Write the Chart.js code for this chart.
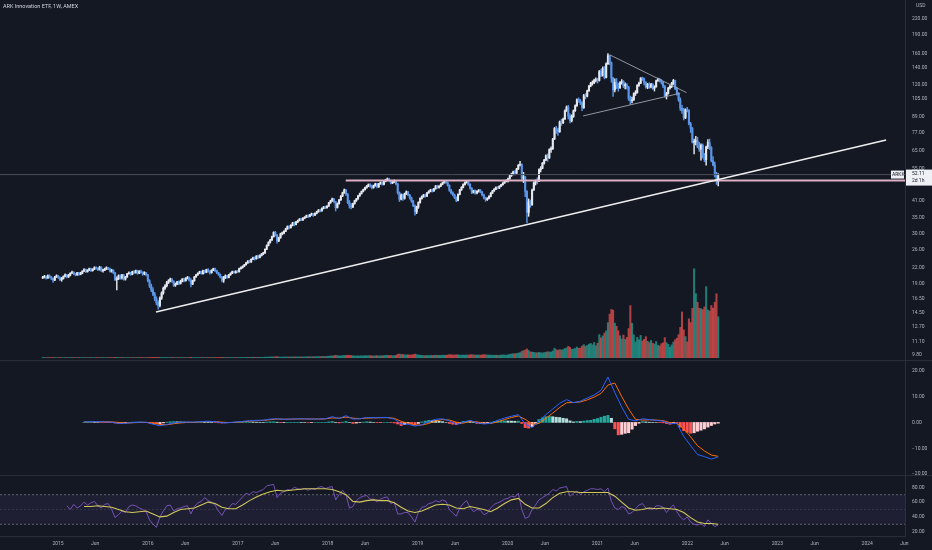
<!DOCTYPE html>
<html>
<head>
<meta charset="utf-8">
<title>ARK Innovation ETF, 1W, AMEX</title>
<script src="https://cdn.jsdelivr.net/npm/chart.js@4.4.1/dist/chart.umd.min.js"></script>
<style>
  html, body { margin: 0; padding: 0; background: #141823; }
  #wrap { width: 932px; height: 550px; }
</style>
</head>
<body>
<div id="wrap"><canvas id="chart" width="932" height="550"></canvas></div>
<script>
// weekly bars, the first one is the week of 31 Oct 2014 (decimal years on the x axis)
const firstWeek = 2014.83;
const weekStep = 7 / 365.25;
const firstOpen = 20.0;

const closes = [
  20.1, 20.3, 20.0, 20.4, 20.2, 19.9, 19.6, 20.2, 20.4,
  20.1, 19.7, 19.9, 20.3, 20.6, 20.2, 20.5, 20.9, 21.1, 20.8, 20.6, 21.0, 20.7,
  20.9, 21.3, 21.6, 21.2, 21.5, 21.8, 21.4, 21.7, 22.0, 21.9, 21.6, 22.1, 21.4,
  21.5, 21.7, 22.0, 21.8, 21.3, 21.5, 21.0, 19.7, 19.9, 20.4, 20.0, 20.6, 19.8,
  20.2, 20.8, 21.0, 20.7, 21.2, 21.0, 21.4, 20.9, 21.3, 21.1, 20.8, 21.0, 20.6,
  19.5, 18.6, 17.9, 17.2, 16.5, 15.9, 15.5, 16.6, 17.4, 18.2, 18.6, 19.2, 19.5,
  19.8, 19.4, 18.7, 18.9, 19.3, 19.0, 19.4, 19.8, 19.5, 19.9, 20.1, 19.6, 18.9,
  19.5, 20.2, 20.6, 20.9, 21.2, 20.8, 21.4, 21.1, 21.6, 21.3, 21.0, 21.5, 21.8,
  21.4, 21.0, 20.7, 20.2, 19.6, 20.1, 20.4, 20.1, 20.6, 20.9, 21.2, 21.0, 21.3,
  21.2, 21.8, 22.0, 22.3, 22.6, 23.0, 23.4, 23.2, 23.8, 24.1, 23.9, 24.5, 24.2,
  24.6, 25.0, 25.2, 26.1, 27.0, 27.8, 28.4, 29.3, 30.5, 29.8, 28.2, 29.0, 30.1,
  30.3, 30.8, 31.5, 32.2, 31.9, 32.6, 33.3, 32.8, 33.6, 34.0, 34.5, 34.2, 34.8,
  35.1, 35.6, 35.3, 35.9, 36.2, 35.8, 36.4, 36.9, 37.5, 37.2, 38.1, 38.6, 38.3,
  38.9, 40.1, 40.8, 41.6, 40.5, 38.4, 39.8, 41.2, 42.7, 44.0, 45.2, 43.5, 40.2,
  39.1, 38.6, 39.8, 40.9, 41.6, 42.8, 43.7, 44.6, 45.3, 46.1, 46.8, 47.5, 46.9,
  46.2, 47.0, 47.8, 46.5, 47.9, 48.4, 47.6, 48.9, 49.6, 50.1, 49.3, 48.2, 48.7,
  49.2, 47.8, 44.1, 41.5, 43.2, 41.8, 43.6, 44.4, 43.1, 42.0, 40.8, 39.1, 36.9,
  38.6, 40.2, 41.8, 42.5, 43.1, 42.7, 44.0, 44.6, 45.2, 44.8, 45.7, 46.9, 46.2,
  46.8, 47.6, 48.3, 48.9, 48.4, 47.2, 45.1, 44.0, 43.2, 42.1, 41.0, 43.4, 45.2,
  46.3, 47.5, 48.4, 48.9, 47.6, 45.9, 44.2, 44.8, 43.9, 44.6, 45.1, 44.3, 43.2,
  42.0, 41.3, 41.8, 42.6, 43.9, 44.8, 45.5, 46.3, 46.0, 46.8, 47.4, 48.2, 49.0,
  49.3, 50.1, 51.6, 52.3, 53.4, 52.8, 54.9, 56.8, 57.3, 50.4, 51.0, 44.6, 36.7,
  40.5, 39.4, 45.2, 48.3, 49.1, 49.0, 54.6, 55.2, 57.9, 59.6, 62.0, 60.8, 65.7,
  66.1, 72.4, 79.8, 78.6, 77.5, 84.9, 84.2, 87.1, 94.0, 97.3, 89.6, 85.8, 89.2,
  94.1, 98.5, 104.3, 103.0, 101.2, 96.8, 108.4, 107.6, 113.2, 118.4, 121.3, 122.0, 124.6,
  125.8, 124.6, 135.2, 130.4, 139.1, 128.0, 145.3, 156.6, 147.1, 127.4, 114.2, 122.5, 120.1,
  116.3, 122.0, 123.4, 118.7, 119.2, 117.3, 105.4, 103.2, 104.1, 110.3, 111.2, 119.1, 121.4,
  127.3, 126.8, 122.1, 117.2, 120.3, 117.0, 120.1, 115.8, 117.4, 124.2, 126.1, 124.0, 122.8,
  118.3, 108.2, 110.4, 116.1, 118.0, 121.3, 124.5, 115.6, 110.2, 104.1, 96.2, 94.0, 88.1,
  95.2, 94.6, 83.2, 80.1, 70.3, 70.6, 71.2, 67.3, 65.9, 68.4, 62.1, 59.8, 67.4,
  70.1, 67.0, 59.2, 57.0, 51.6, 48.9, 52.11
];

const highs = [
  20.3, 20.5, 20.4, 20.6, 20.6, 20.3, 20.0, 20.3, 20.6,
  20.5, 20.2, 20.1, 20.4, 20.8, 20.7, 20.7, 21.0, 21.3, 21.2, 20.9, 21.1, 21.1,
  21.1, 21.4, 21.8, 21.7, 21.6, 21.9, 21.9, 21.8, 22.2, 22.2, 22.0, 22.3, 22.2,
  21.7, 21.9, 22.2, 22.1, 21.9, 21.7, 21.6, 21.1, 20.2, 20.6, 20.6, 20.7, 20.7,
  20.3, 20.9, 21.2, 21.1, 21.3, 21.4, 21.5, 21.5, 21.4, 21.5, 21.2, 21.2, 21.1,
  20.7, 19.7, 18.9, 18.3, 17.5, 16.8, 16.2, 16.8, 17.6, 18.4, 18.8, 19.4, 19.7,
  20.0, 19.9, 19.5, 19.1, 19.4, 19.5, 19.6, 19.9, 20.0, 20.1, 20.3, 20.2, 19.9,
  19.6, 20.3, 20.7, 21.0, 21.3, 21.3, 21.5, 21.5, 21.7, 21.8, 21.4, 21.6, 21.9,
  21.9, 21.5, 21.1, 20.8, 20.3, 20.3, 20.6, 20.5, 20.7, 21.0, 21.3, 21.3, 21.4,
  21.4, 21.9, 22.2, 22.4, 22.7, 23.1, 23.5, 23.6, 23.9, 24.3, 24.3, 24.6, 24.7,
  24.8, 25.1, 25.4, 26.2, 27.2, 28.0, 28.6, 29.5, 30.7, 30.8, 30.0, 29.2, 30.3,
  30.6, 31.0, 31.7, 32.4, 32.5, 32.8, 33.5, 33.6, 33.8, 34.2, 34.7, 34.8, 35.0,
  35.3, 35.8, 35.9, 36.1, 36.5, 36.4, 36.6, 37.1, 37.7, 37.8, 38.3, 38.8, 38.9,
  39.1, 40.3, 41.1, 41.9, 41.8, 40.7, 40.1, 41.4, 42.9, 44.3, 45.6, 45.5, 43.7,
  41.0, 39.8, 40.0, 41.1, 41.8, 43.0, 43.9, 44.8, 45.6, 46.4, 47.1, 47.8, 47.9,
  47.3, 47.3, 48.1, 48.0, 48.1, 48.7, 48.6, 49.1, 49.9, 50.5, 50.3, 49.5, 49.0,
  49.6, 49.4, 48.0, 44.4, 43.6, 43.5, 43.9, 44.8, 44.6, 43.4, 42.3, 41.1, 39.4,
  38.9, 40.5, 42.0, 42.8, 43.4, 43.5, 44.2, 44.9, 45.5, 45.6, 45.9, 47.1, 47.2,
  47.1, 47.9, 48.6, 49.2, 49.3, 48.7, 47.4, 45.5, 44.4, 43.5, 42.4, 43.6, 45.5,
  46.6, 47.8, 48.7, 49.3, 49.1, 47.9, 46.2, 45.1, 45.2, 44.9, 45.4, 45.4, 44.6,
  43.5, 42.3, 42.1, 42.9, 44.1, 45.0, 45.8, 46.5, 46.6, 47.0, 47.6, 48.4, 49.2,
  49.6, 50.4, 51.9, 52.8, 53.8, 54.1, 55.2, 57.2, 58.9, 57.6, 53.2, 51.3, 44.9,
  41.6, 41.2, 45.6, 48.7, 49.6, 50.6, 54.9, 56.1, 58.3, 60.0, 62.6, 63.1, 66.2,
  67.4, 72.9, 80.6, 81.4, 80.2, 85.6, 87.0, 88.0, 94.8, 98.4, 98.9, 91.5, 90.6,
  94.8, 99.3, 105.2, 106.0, 104.5, 102.3, 109.5, 110.3, 114.0, 119.2, 122.5, 124.1, 126.2,
  127.5, 127.0, 136.7, 138.3, 141.2, 141.8, 146.5, 159.7, 157.8, 148.0, 128.3, 126.4, 126.8,
  121.5, 123.2, 125.6, 124.5, 121.8, 121.1, 117.9, 107.8, 106.9, 111.2, 113.3, 119.8, 122.6,
  127.9, 128.5, 127.4, 123.3, 121.2, 122.0, 121.4, 121.0, 118.6, 124.9, 127.2, 127.0, 125.7,
  123.4, 118.9, 111.7, 117.0, 119.7, 122.4, 125.8, 124.9, 117.2, 111.3, 106.0, 99.0, 96.3,
  95.8, 97.1, 95.0, 84.5, 80.6, 72.4, 74.2, 73.6, 70.2, 69.3, 69.2, 63.4, 67.9,
  72.0, 72.4, 67.5, 61.5, 58.5, 53.3, 52.6
];

const lows = [
  19.9, 20.0, 19.8, 19.9, 20.0, 19.7, 19.2, 19.5, 20.1,
  19.9, 19.5, 19.4, 19.8, 20.2, 20.0, 20.1, 20.4, 20.8, 20.6, 20.4, 20.5, 20.5,
  20.6, 20.8, 21.2, 21.0, 21.1, 21.4, 21.2, 21.3, 21.6, 21.7, 21.4, 21.5, 21.2,
  21.1, 21.4, 21.6, 21.6, 21.1, 21.1, 20.8, 19.5, 17.9, 19.7, 19.8, 19.8, 19.6,
  19.6, 20.1, 20.7, 20.5, 20.6, 20.8, 20.9, 20.7, 20.8, 20.9, 20.5, 20.6, 20.4,
  19.3, 18.3, 17.6, 17.0, 16.2, 15.6, 15.0, 15.3, 16.4, 17.2, 18.0, 18.4, 19.0,
  19.3, 19.2, 18.5, 18.5, 18.8, 18.8, 18.9, 19.3, 19.3, 19.4, 19.8, 19.4, 18.4,
  18.8, 19.4, 20.1, 20.5, 20.8, 20.7, 20.7, 20.9, 21.0, 21.1, 20.7, 20.9, 21.4,
  21.2, 20.8, 20.5, 20.0, 19.3, 19.2, 19.9, 19.9, 20.0, 20.5, 20.8, 20.9, 20.9,
  21.0, 21.1, 21.7, 21.9, 22.2, 22.5, 22.9, 23.0, 23.1, 23.7, 23.6, 23.8, 24.0,
  24.1, 24.5, 24.8, 25.1, 26.0, 26.9, 27.6, 28.3, 29.2, 29.5, 27.6, 28.0, 28.9,
  29.8, 30.1, 30.7, 31.4, 31.5, 31.7, 32.4, 32.4, 32.7, 33.4, 33.9, 34.0, 34.1,
  34.6, 35.0, 35.0, 35.2, 35.7, 35.4, 35.6, 36.2, 36.8, 36.9, 37.1, 37.9, 38.0,
  38.2, 38.8, 39.9, 40.6, 40.1, 37.2, 38.2, 39.6, 41.0, 42.5, 43.8, 43.0, 39.8,
  38.2, 37.9, 38.4, 39.6, 40.6, 41.4, 42.6, 43.5, 44.4, 45.1, 45.9, 46.6, 46.4,
  45.6, 45.9, 46.8, 46.1, 46.3, 47.6, 47.2, 47.4, 48.7, 49.3, 48.9, 47.8, 47.9,
  48.4, 47.3, 43.5, 40.6, 41.2, 41.0, 41.5, 43.3, 42.8, 41.5, 40.3, 38.7, 35.8,
  36.3, 38.1, 40.0, 41.5, 42.2, 42.3, 42.5, 43.8, 44.4, 44.3, 44.6, 45.5, 45.8,
  45.9, 46.6, 47.4, 48.1, 48.0, 46.8, 44.6, 43.6, 42.8, 41.7, 40.5, 40.8, 43.2,
  45.0, 46.1, 47.2, 48.1, 47.2, 45.5, 43.7, 43.9, 43.5, 43.6, 44.3, 44.0, 42.8,
  41.6, 40.7, 41.0, 41.6, 42.4, 43.7, 44.6, 45.3, 45.6, 45.8, 46.6, 47.2, 48.0,
  48.7, 48.6, 49.9, 51.2, 51.9, 52.0, 52.6, 54.6, 56.4, 49.1, 48.4, 42.5, 33.3,
  35.4, 38.5, 39.2, 45.0, 47.3, 47.8, 48.8, 53.4, 55.0, 57.4, 59.3, 58.9, 60.5,
  64.0, 65.8, 72.1, 76.2, 74.8, 77.0, 82.1, 83.5, 86.8, 93.5, 87.2, 84.0, 84.9,
  88.5, 93.6, 97.9, 101.8, 99.6, 94.2, 96.2, 105.1, 107.0, 112.6, 117.5, 119.3, 121.0,
  122.9, 121.5, 123.8, 128.9, 129.6, 126.4, 127.5, 144.6, 144.2, 122.5, 107.5, 111.9, 115.3,
  112.9, 115.6, 120.3, 116.6, 115.2, 114.9, 103.6, 99.8, 101.2, 103.5, 108.4, 110.8, 117.8,
  120.9, 124.6, 119.6, 116.0, 115.4, 115.8, 116.3, 114.6, 112.9, 117.0, 123.5, 122.8, 120.5,
  116.4, 106.8, 104.9, 109.8, 114.9, 116.6, 120.0, 114.3, 108.8, 102.6, 94.3, 91.7, 86.4,
  87.5, 93.0, 82.6, 76.9, 69.8, 63.1, 68.5, 66.8, 64.5, 59.6, 60.8, 58.7, 56.8,
  66.3, 65.7, 58.6, 56.4, 51.0, 47.6, 46.9
];

// weekly volume, millions of shares
const volumes = [
  0.4, 0.3, 0.2, 0.2, 0.3, 0.2, 0.3, 0.2, 0.1,
  0.2, 0.2, 0.1, 0.2, 0.2, 0.1, 0.2, 0.3, 0.2, 0.2, 0.1, 0.2, 0.2,
  0.2, 0.1, 0.2, 0.2, 0.1, 0.2, 0.2, 0.1, 0.2, 0.2, 0.2, 0.1, 0.3,
  0.2, 0.2, 0.1, 0.2, 0.2, 0.3, 0.3, 0.5, 0.6, 0.3, 0.2, 0.3, 0.3,
  0.2, 0.2, 0.2, 0.1, 0.2, 0.2, 0.2, 0.2, 0.3, 0.2, 0.3, 0.2, 0.3,
  0.4, 0.4, 0.5, 0.5, 0.6, 0.5, 0.7, 0.4, 0.4, 0.3, 0.3, 0.3, 0.2,
  0.2, 0.3, 0.3, 0.2, 0.2, 0.3, 0.2, 0.2, 0.3, 0.2, 0.2, 0.3, 0.5,
  0.3, 0.2, 0.2, 0.3, 0.2, 0.2, 0.3, 0.2, 0.3, 0.3, 0.2, 0.3, 0.3,
  0.3, 0.3, 0.4, 0.4, 0.6, 0.5, 0.4, 0.3, 0.3, 0.3, 0.4, 0.3, 0.3,
  0.4, 0.4, 0.5, 0.4, 0.5, 0.5, 0.6, 0.5, 0.6, 0.7, 0.6, 0.7, 0.6,
  0.7, 0.8, 0.7, 0.9, 1.1, 1.0, 1.2, 1.3, 1.5, 1.4, 1.8, 1.2, 1.1,
  1.0, 1.1, 1.2, 1.3, 1.1, 1.2, 1.4, 1.3, 1.2, 1.3, 1.4, 1.2, 1.3,
  1.4, 1.5, 1.4, 1.6, 1.5, 1.7, 1.6, 1.8, 1.9, 1.7, 2.0, 2.1, 1.8,
  2.0, 2.6, 2.8, 3.0, 3.2, 4.1, 3.4, 2.9, 3.1, 3.5, 3.8, 3.6, 4.2,
  4.0, 3.7, 3.2, 3.0, 2.8, 3.1, 2.9, 3.3, 3.0, 3.4, 3.2, 3.5, 3.3,
  3.1, 2.9, 3.2, 3.4, 3.0, 3.3, 3.1, 3.6, 3.8, 4.0, 3.5, 3.7, 3.4,
  3.3, 3.9, 5.6, 6.1, 5.2, 5.5, 4.8, 4.6, 4.9, 4.4, 4.7, 5.1, 6.0,
  5.2, 4.6, 4.1, 3.8, 3.6, 3.4, 3.7, 3.5, 3.8, 3.6, 3.9, 4.2, 4.0,
  3.8, 3.9, 4.1, 4.3, 4.0, 4.4, 5.2, 4.8, 4.6, 4.5, 4.9, 4.7, 4.4,
  4.2, 4.5, 4.3, 4.6, 4.4, 4.9, 5.1, 4.7, 4.5, 4.3, 4.6, 4.2, 4.8,
  5.0, 4.9, 4.6, 4.3, 4.4, 4.2, 4.0, 4.3, 3.9, 4.1, 4.4, 4.6, 4.5,
  4.3, 4.8, 5.6, 6.2, 6.8, 6.5, 7.2, 7.8, 8.4, 10.5, 11.8, 12.9, 14.6,
  12.1, 9.8, 9.3, 8.9, 8.4, 8.1, 8.8, 8.3, 7.9, 8.5, 9.2, 9.9, 9.6,
  9.4, 11.2, 15.8, 13.4, 12.1, 13.7, 12.8, 13.5, 15.2, 16.4, 18.9, 17.2, 13.9,
  14.6, 15.3, 17.8, 15.6, 16.2, 19.4, 21.7, 18.9, 20.4, 22.6, 23.8, 21.5, 25.3,
  19.8, 24.2, 38.5, 33.1, 36.4, 41.2, 44.8, 58.3, 72.6, 80.4, 79.2, 57.6, 52.3,
  44.9, 36.5, 31.2, 37.8, 30.4, 33.7, 48.6, 86.9, 57.4, 38.2, 26.5, 34.1, 29.8,
  37.2, 27.9, 30.6, 35.1, 27.4, 25.3, 28.6, 24.1, 22.7, 26.9, 20.8, 19.6, 23.4,
  24.8, 33.5, 25.1, 22.3, 17.6, 21.4, 26.2, 29.8, 32.5, 38.4, 50.6, 76.2, 46.5,
  35.2, 26.4, 64.8, 58.5, 82.3, 148.2, 106.8, 92.5, 82.4, 81.6, 80.2, 84.6, 118.4,
  79.5, 77.8, 86.9, 82.4, 92.4, 106.5, 68.2
];

// MACD 12/26/9: lines every 4th week, histogram every 2nd week, both from week 24
const macdStart = 24;
const macdLine = [
  0.25, 0.30, 0.30, 0.20, 0.10, -0.40, -0.35, -0.05, 0.10, 0.05,
  -0.70, -1.30, -0.80, -0.20, 0.00, 0.15, 0.10, 0.35, 0.45, 0.30,
  -0.15, -0.10, 0.15, 0.40, 0.65, 0.80, 0.85, 1.30, 1.40, 1.20,
  1.30, 1.40, 1.35, 1.30, 1.30, 1.40, 2.20, 1.50, 2.60, 1.30,
  1.40, 1.90, 1.80, 1.90, 1.90, 1.30, -0.60, -0.70, -1.40, -0.90,
  0.40, 1.20, 1.40, 0.60, -0.80, 0.10, 0.80, -0.10, -0.60, -0.30,
  0.80, 1.70, 2.40, 3.00, -0.60, -2.00, 0.60, 3.00, 5.20, 7.40,
  8.80, 7.60, 8.20, 9.40, 10.60, 12.40, 17.50, 11.50, 6.00, 1.20,
  0.60, 1.40, 1.10, 0.80, 0.50, -0.50, -0.40, -5.40, -9.00, -12.40,
  -13.20, -14.20, -13.30
];
const signalLine = [
  0.20, 0.25, 0.28, 0.26, 0.20, 0.00, -0.20, -0.15, -0.02, 0.04,
  -0.25, -0.75, -0.90, -0.50, -0.20, 0.00, 0.08, 0.20, 0.35, 0.35,
  0.10, -0.05, 0.05, 0.25, 0.50, 0.70, 0.80, 1.05, 1.30, 1.25,
  1.25, 1.35, 1.35, 1.32, 1.30, 1.35, 1.75, 1.65, 2.05, 1.65,
  1.45, 1.65, 1.75, 1.80, 1.85, 1.60, 0.40, -0.30, -1.00, -1.00,
  -0.40, 0.60, 1.10, 0.90, 0.10, -0.30, 0.40, 0.20, -0.30, -0.40,
  0.20, 1.10, 1.90, 2.50, 1.20, -0.60, -0.40, 1.60, 3.60, 5.80,
  7.60, 7.70, 7.90, 8.70, 9.80, 11.20, 14.40, 15.20, 10.00, 5.20,
  1.20, 0.90, 1.00, 0.90, 0.70, -0.10, -0.40, -2.40, -5.60, -9.00,
  -11.00, -12.60, -13.10
];
const macdHist = [
  0.05, 0.05, 0.05, 0.04, 0.02, -0.02, -0.06, -0.08, -0.10, -0.25,
  -0.40, -0.30, -0.15, 0.02, 0.10, 0.12, 0.12, 0.05, 0.01, -0.20,
  -0.45, -0.55, -0.55, -0.20, 0.10, 0.25, 0.30, 0.25, 0.20, 0.15,
  0.15, 0.05, 0.02, 0.10, 0.15, 0.12, 0.10, 0.02, -0.05, -0.15,
  -0.25, -0.15, -0.05, 0.05, 0.10, 0.14, 0.15, 0.15, 0.15, 0.12,
  0.10, 0.06, 0.05, 0.15, 0.25, 0.25, 0.10, -0.10, -0.05, 0.02,
  0.05, 0.05, 0.05, 0.02, 0.00, -0.02, -0.02, 0.00, 0.00, 0.03,
  0.05, 0.20, 0.35, 0.05, -0.20, 0.10, 0.35, 0.00, -0.40, -0.25,
  -0.05, 0.10, 0.25, 0.15, 0.00, -0.05, -0.10, 0.00, 0.02, -0.05,
  -0.20, -0.60, -1.20, -0.80, -0.30, -0.50, -0.90, -0.40, 0.20, 0.50,
  0.80, 0.75, 0.70, 0.45, 0.30, 0.00, -0.40, -0.70, -0.90, -0.50,
  0.40, 0.45, 0.40, 0.00, -0.40, -0.35, -0.30, -0.10, 0.10, 0.35,
  0.60, 0.60, 0.60, 0.55, 0.50, 0.45, 0.50, -0.40, -2.00, -2.20,
  -1.60, -0.60, 1.10, 1.80, 2.20, 2.30, 2.20, 2.00, 1.90, 1.60,
  1.40, 0.60, 0.20, 0.40, 0.30, 0.50, 0.70, 0.80, 1.20, 1.50,
  2.00, 2.40, 2.70, 1.60, -2.50, -4.80, -4.60, -4.20, -4.00, -2.60,
  -1.20, -0.30, 0.30, 0.20, 0.10, 0.05, 0.00, -0.05, -0.15, -0.45,
  -0.70, -0.20, -0.30, -1.80, -3.20, -3.80, -4.20, -4.00, -3.40, -3.00,
  -2.50, -1.80, -1.20, -0.60, -0.30
];

// RSI 14 every 2nd week from week 14, its moving average every 4th week from week 24
const rsiStart = 14;
const rsiLine = [
  55, 50, 57, 52, 55, 60, 56, 59, 61, 55,
  52, 57, 58, 50, 39, 43, 48, 46, 54, 56,
  55, 52, 50, 47, 36, 30, 26, 40, 48, 55,
  56, 48, 51, 52, 54, 55, 44, 54, 59, 61,
  66, 62, 60, 56, 48, 42, 50, 52, 58, 57,
  62, 67, 72, 70, 74, 73, 75, 77, 82, 83,
  84, 66, 72, 74, 77, 76, 80, 78, 77, 78,
  76, 78, 77, 80, 81, 78, 80, 81, 63, 70,
  76, 70, 52, 54, 62, 66, 68, 69, 64, 64,
  60, 64, 66, 67, 58, 60, 44, 44, 46, 46,
  40, 33, 46, 53, 54, 58, 59, 62, 60, 63,
  61, 50, 45, 41, 52, 58, 62, 53, 47, 50,
  49, 43, 45, 52, 57, 59, 61, 64, 65, 68,
  67, 72, 50, 38, 40, 50, 56, 63, 66, 69,
  72, 77, 75, 79, 80, 81, 68, 72, 75, 70,
  74, 76, 78, 78, 77, 78, 74, 79, 61, 52,
  50, 54, 52, 44, 46, 51, 56, 58, 52, 51,
  50, 55, 55, 53, 46, 52, 56, 47, 40, 36,
  40, 33, 30, 29, 31, 27, 36, 31, 27, 29
];
const rsiMaStart = 24;
const rsiMa = [
  54, 54, 55, 54, 53, 50, 47, 46, 47, 48,
  44, 40, 41, 46, 50, 51, 52, 56, 60, 58,
  53, 51, 51, 56, 62, 67, 71, 74, 76, 75,
  76, 77, 78, 78, 78, 78, 77, 74, 70, 61,
  60, 62, 63, 62, 62, 59, 53, 48, 46, 48,
  52, 56, 57, 56, 52, 51, 54, 52, 50, 47,
  52, 58, 63, 65, 57, 52, 52, 58, 66, 72,
  74, 74, 73, 73, 73, 73, 73, 68, 60, 52,
  49, 50, 52, 51, 52, 51, 50, 46, 39, 33,
  31, 31, 30
];

// axes
const xRange = [2014.355, 2024.42];
const years = [2015, 2016, 2017, 2018, 2019, 2020, 2021, 2022, 2023, 2024];
const midYear = 151 / 365;
const midYearLabel = 'Jun';
const priceRange = [9.36, 262.4];
const priceTicks = [9.8, 11.1, 12.7, 14.5, 16.5, 19, 22, 26, 30, 35, 41, 48, 55, 65, 77, 89, 105, 120, 140, 160, 190, 220];
const macdRange = [-20.3, 24.1];
const macdTicks = [20, 10, 0, -10, -20];
const rsiRange = [14.2, 96.6];
const rsiTicks = [80, 60, 40, 20];
const rsiLevels = [70, 50, 30];
const volRange = [-296.9, 595.7];

// drawings on the price pane: [decimal year, price]
const trendLine = [[2016.09, 14.6], [2024.21, 71.8]];
const resistance = [[2018.2, 49.3], [2024.42, 49.3]];
const wedgeTop = [[2021.14, 157.7], [2021.99, 111.3]];
const wedgeBottom = [[2020.84, 89.7], [2021.92, 110.7]];

const chartTitle = 'ARK Innovation ETF, 1W, AMEX';
const symbol = 'ARKK';
const currency = 'USD';
const lastPrice = 52.11;
const barCountdown = '2d 1h';

// colours
const bgColor = '#141823';
const lineColor = '#2a2e39';
const tickColor = '#b2b5be';
const upColor = '#e6e9f0';
const downColor = '#5a95e8';
const fontFamily = 'Roboto, "Liberation Sans", sans-serif';
const tickFont = { family: fontFamily, size: 5 };

const weekX = i => firstWeek + i * weekStep;
const opens = closes.map((c, i) => (i ? closes[i - 1] : firstOpen));
const barColors = closes.map((c, i) => (c >= opens[i] ? upColor : downColor));
const volColors = closes.map((c, i) => (c >= opens[i] ? 'rgba(38,166,154,0.7)' : 'rgba(239,83,80,0.7)'));
const strided = (arr, start, step) => arr.map((v, k) => ({ x: weekX(start + k * step), y: v }));
const histColors = macdHist.map((h, k) => {
  const prev = k ? macdHist[k - 1] : 0;
  if (h >= 0) return h >= prev ? '#26a69a' : '#b2dfdb';
  return h < prev ? '#ff5252' : '#ffcdd2';
});
const drawing = (pts, color, width) => ({
  type: 'line', yAxisID: 'y', order: 1,
  data: pts.map(([x, y]) => ({ x, y })),
  borderColor: color, borderWidth: width, pointRadius: 0
});
const fmt = v => (v < 0 ? '\u2212' : '') + Math.abs(v).toFixed(2);
const fixedTicks = list => s => { s.ticks = list.map(v => ({ value: v })); };
// panes share the right column; keep the label padding from shrinking the plot area
const yAxis = (extra) => Object.assign({
  position: 'right', stack: 'panes',
  grid: { display: false, drawTicks: false },
  border: { color: lineColor },
  afterFit: s => { s.width = 27; s.paddingTop = 0; s.paddingBottom = 0; },
  ticks: { color: tickColor, font: tickFont, padding: 7, autoSkip: false, callback: v => fmt(v) }
}, extra);

const paneDecor = {
  id: 'paneDecor',
  beforeDraw(chart) {
    const { ctx, width, height } = chart;
    ctx.save();
    ctx.fillStyle = bgColor;
    ctx.fillRect(0, 0, width, height);
    ctx.restore();
  },
  beforeDatasetsDraw(chart) {
    const { ctx, width, chartArea: a, scales: s } = chart;
    const r = s.yRsi;
    const top = r.getPixelForValue(rsiLevels[0]);
    const mid = r.getPixelForValue(rsiLevels[1]);
    const bot = r.getPixelForValue(rsiLevels[2]);
    ctx.save();
    ctx.fillStyle = 'rgba(126,87,194,0.11)';
    ctx.fillRect(a.left, top, a.right - a.left, bot - top);
    ctx.lineWidth = 1;
    ctx.setLineDash([2, 2]);
    ctx.strokeStyle = 'rgba(120,123,134,0.75)';
    [top, bot].forEach(y => {
      ctx.beginPath(); ctx.moveTo(a.left, y); ctx.lineTo(a.right, y); ctx.stroke();
    });
    ctx.strokeStyle = 'rgba(120,123,134,0.25)';
    ctx.beginPath(); ctx.moveTo(a.left, mid); ctx.lineTo(a.right, mid); ctx.stroke();
    ctx.setLineDash([]);
    ctx.strokeStyle = lineColor;
    [s.y.bottom, s.yMacd.bottom].forEach(y => {
      ctx.beginPath(); ctx.moveTo(0, y + 0.5); ctx.lineTo(width, y + 0.5); ctx.stroke();
    });
    ctx.restore();
  },
  afterDraw(chart) {
    const { ctx, width, chartArea: a, scales: s } = chart;
    ctx.save();
    ctx.textBaseline = 'middle';
    ctx.textAlign = 'left';
    ctx.font = '5.5px ' + fontFamily;
    ctx.fillStyle = '#d1d4dc';
    ctx.fillText(chartTitle, 3, 7);
    ctx.font = '5px ' + fontFamily;
    ctx.fillStyle = tickColor;
    ctx.fillText(currency, a.right + 11, 6);
    const py = s.y.getPixelForValue(lastPrice);
    ctx.fillStyle = '#eef0f6';
    ctx.fillRect(a.right + 1, py - 5, width - a.right - 1, 16);
    ctx.fillRect(a.right - 14, py - 4, 13, 8);
    ctx.fillStyle = '#131722';
    ctx.fillText(lastPrice.toFixed(2), a.right + 7, py - 0.5);
    ctx.fillText(barCountdown, a.right + 7, py + 6.5);
    ctx.fillText(symbol, a.right - 13, py);
    ctx.restore();
  }
};

new Chart(document.getElementById('chart'), {
  type: 'bar',
  data: {
    datasets: [
      drawing(trendLine, '#eeeeee', 1.6),
      drawing(resistance, '#dcb0c3', 2),
      drawing(wedgeTop, '#9ea1aa', 0.9),
      drawing(wedgeBottom, '#9ea1aa', 0.9),
      drawing([[xRange[0], lastPrice], [xRange[1], lastPrice]], '#4a4e59', 1),
      {
        label: 'body', yAxisID: 'y', order: 4, grouped: false,
        data: closes.map((c, i) => ({ x: weekX(i), y: [opens[i], c] })),
        backgroundColor: barColors, barThickness: 1.4, minBarLength: 1
      },
      {
        label: 'wick', yAxisID: 'y', order: 5, grouped: false,
        data: closes.map((c, i) => ({ x: weekX(i), y: [lows[i], highs[i]] })),
        backgroundColor: barColors, barThickness: 0.8
      },
      {
        label: 'volume', yAxisID: 'yVol', order: 9, grouped: false,
        data: volumes.map((v, i) => ({ x: weekX(i), y: v })),
        backgroundColor: volColors, barThickness: 1.4
      },
      {
        label: 'histogram', yAxisID: 'yMacd', order: 6, grouped: false,
        data: strided(macdHist, macdStart, 2),
        backgroundColor: histColors, barThickness: 2.4
      },
      {
        type: 'line', label: 'MACD', yAxisID: 'yMacd', order: 3,
        data: strided(macdLine, macdStart, 4),
        borderColor: '#2962ff', borderWidth: 1, pointRadius: 0
      },
      {
        type: 'line', label: 'Signal', yAxisID: 'yMacd', order: 3,
        data: strided(signalLine, macdStart, 4),
        borderColor: '#ff6d00', borderWidth: 1, pointRadius: 0
      },
      {
        type: 'line', label: 'RSI', yAxisID: 'yRsi', order: 3,
        data: strided(rsiLine, rsiStart, 2),
        borderColor: '#7e57c2', borderWidth: 0.9, pointRadius: 0
      },
      {
        type: 'line', label: 'RSI MA', yAxisID: 'yRsi', order: 2,
        data: strided(rsiMa, rsiMaStart, 4),
        borderColor: '#d2c85c', borderWidth: 1.1, pointRadius: 0
      }
    ]
  },
  options: {
    responsive: false,
    animation: false,
    events: [],
    layout: { padding: 0 },
    plugins: { legend: { display: false }, tooltip: { enabled: false } },
    scales: {
      x: {
        type: 'linear', min: xRange[0], max: xRange[1], offset: false,
        grid: { display: false, drawTicks: false, offset: false },
        border: { color: lineColor },
        afterBuildTicks: fixedTicks(years.flatMap(y => [y, y + midYear])),
        afterFit: s => { s.height = 14; s.paddingLeft = 0; s.paddingRight = 0; },
        ticks: {
          color: tickColor, font: tickFont, padding: 5, maxRotation: 0, autoSkip: false,
          callback: v => (Number.isInteger(v) ? String(v) : midYearLabel)
        }
      },
      y: yAxis({
        type: 'logarithmic', weight: 0, stackWeight: 360,
        min: priceRange[0], max: priceRange[1],
        afterBuildTicks: fixedTicks(priceTicks)
      }),
      yMacd: yAxis({
        type: 'linear', weight: 1, stackWeight: 115,
        min: macdRange[0], max: macdRange[1],
        afterBuildTicks: fixedTicks(macdTicks)
      }),
      yRsi: yAxis({
        type: 'linear', weight: 2, stackWeight: 61,
        min: rsiRange[0], max: rsiRange[1],
        afterBuildTicks: fixedTicks(rsiTicks)
      }),
      yVol: {
        type: 'linear', display: false, position: 'right', weight: 3,
        min: volRange[0], max: volRange[1],
        grid: { display: false }
      }
    }
  },
  plugins: [paneDecor]
});
</script>
</body>
</html>
